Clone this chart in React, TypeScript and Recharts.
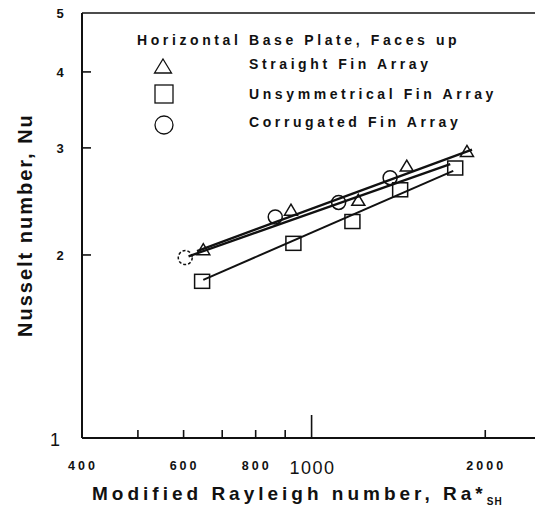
import React from "react";
import {
  ReferenceLine,
  Scatter,
  ScatterChart,
  XAxis,
  YAxis,
} from "recharts";

// Values.
const straightRa = [649, 921, 1205, 1462, 1859];
const straightNu = [2.04, 2.37, 2.46, 2.8, 2.96];

const unsymRa = [646, 930, 1177, 1424, 1774];
const unsymNu = [1.81, 2.09, 2.27, 2.56, 2.78];

const corrRa = [604, 865, 1114, 1368];
const corrNu = [1.98, 2.31, 2.44, 2.68];

// End points of the fitted power-law lines.
const straightFitRa = [633, 1897];
const straightFitNu = [2.03, 2.98];
const corrFitRa = [612, 1739];
const corrFitNu = [1.99, 2.82];
const unsymFitRa = [649, 1760];
const unsymFitNu = [1.82, 2.75];

const X_TICKS = [400, 500, 600, 700, 800, 900, 1000, 2000];
const X_LABELS: Record<number, string> = {
  400: "400",
  600: "600",
  800: "800",
  1000: "1000",
  2000: "2000",
};
const Y_TICKS = [1, 2, 3, 4, 5];

const INK = "#111";
const FONT = "Arial, 'Liberation Sans', sans-serif";

const toPoints = (xs: number[], ys: number[]) =>
  xs.map((x, i) => ({ x, y: ys[i] }));

function XTick({ x, y, payload }: any) {
  const v = payload.value as number;
  const big = v === 1000;
  const len = big ? 23 : 8;
  const label = X_LABELS[v];
  return (
    <g>
      {v !== 400 && (
        <line x1={x} x2={x} y1={y} y2={y - len} stroke={INK} strokeWidth={1.6} />
      )}
      {label && (
        <text
          x={x + 1}
          y={big ? y + 36 : y + 32}
          textAnchor="middle"
          fontFamily={FONT}
          fontSize={big ? 18 : 12.5}
          fontWeight={big ? 400 : 700}
          letterSpacing={big ? 1.5 : 3}
          fill={INK}
        >
          {label}
        </text>
      )}
    </g>
  );
}

function YTick({ x, y, payload }: any) {
  const v = payload.value as number;
  const big = v === 1;
  return (
    <g>
      {v > 1 && v < 5 && (
        <line x1={x} x2={x + 9} y1={y} y2={y} stroke={INK} strokeWidth={1.6} />
      )}
      <text
        x={big ? x - 27 : x - 22}
        y={big ? y + 8 : y + 5}
        textAnchor="middle"
        fontFamily={FONT}
        fontSize={big ? 18 : 13}
        fontWeight={big ? 400 : 700}
        fill={INK}
      >
        {v}
      </text>
    </g>
  );
}

const Triangle = ({ cx, cy }: any) => (
  <path
    d={`M${cx},${cy - 6} L${cx + 6.5},${cy + 5} L${cx - 6.5},${cy + 5} Z`}
    fill="none"
    stroke={INK}
    strokeWidth={1.5}
  />
);

const Square = ({ cx, cy }: any) => (
  <rect x={cx - 7.5} y={cy - 7} width={15} height={14} fill="none" stroke={INK} strokeWidth={1.5} />
);

const Circle = ({ cx, cy, index }: any) => (
  <circle
    cx={cx}
    cy={cy}
    r={7}
    fill="none"
    stroke={INK}
    strokeWidth={1.5}
    strokeDasharray={index === 0 ? "3 2" : undefined}
  />
);

const NoDot = () => <g />;

function LegendOverlay() {
  const text = {
    fontFamily: FONT,
    fontSize: 14,
    fontWeight: 700,
    letterSpacing: 3.6,
    fill: INK,
  } as const;
  return (
    <svg
      width={535}
      height={512}
      style={{ position: "absolute", left: 0, top: 0, pointerEvents: "none" }}
    >
      <text x={137} y={45} {...text} letterSpacing={3.6}>
        Horizontal Base Plate, Faces up
      </text>
      <path d="M163,59 L171.5,73 L154.5,73 Z" fill="none" stroke={INK} strokeWidth={1.3} />
      <text x={249} y={69} {...text}>
        Straight Fin Array
      </text>
      <rect x={155} y={85} width={18} height={18} fill="none" stroke={INK} strokeWidth={1.3} />
      <text x={249} y={99} {...text}>
        Unsymmetrical Fin Array
      </text>
      <circle cx={164} cy={125} r={9} fill="none" stroke={INK} strokeWidth={1.3} />
      <text x={249} y={127} {...text}>
        Corrugated Fin Array
      </text>
    </svg>
  );
}

export default function App() {
  return (
    <div
      style={{
        position: "absolute",
        left: 0,
        top: 0,
        width: 535,
        height: 512,
        overflow: "hidden",
        background: "#fff",
      }}
    >
      <ScatterChart width={551} height={512} margin={{ top: 13, right: 0, bottom: 0, left: 0 }}>
        <XAxis
          type="number"
          dataKey="x"
          scale="log"
          domain={[400, 2600]}
          allowDataOverflow
          ticks={X_TICKS}
          interval={0}
          tick={<XTick />}
          tickSize={0}
          tickMargin={0}
          tickLine={false}
          axisLine={{ stroke: INK, strokeWidth: 2 }}
          height={74}
          label={{
            content: () => (
              <text
                x={92}
                y={500}
                textAnchor="start"
                fontFamily={FONT}
                fontSize={19}
                fontWeight={700}
                letterSpacing={4}
                fill={INK}
              >
                Modified Rayleigh number, Ra*
                <tspan fontSize={10} dy={5} letterSpacing={1}>
                  SH
                </tspan>
              </text>
            ),
          }}
        />
        <YAxis
          type="number"
          dataKey="y"
          scale="log"
          domain={[1, 5]}
          allowDataOverflow
          ticks={Y_TICKS}
          interval={0}
          tick={<YTick />}
          tickSize={0}
          tickMargin={0}
          tickLine={false}
          axisLine={{ stroke: INK, strokeWidth: 2 }}
          width={82}
          label={{
            content: () => (
              <text
                transform="translate(32,337) rotate(-90)"
                textAnchor="start"
                fontFamily={FONT}
                fontSize={20}
                fontWeight={700}
                letterSpacing={2}
                fill={INK}
              >
                Nusselt number, Nu
              </text>
            ),
          }}
        />
        <ReferenceLine y={5} stroke={INK} strokeWidth={1.5} />

        <Scatter
          data={toPoints(straightFitRa, straightFitNu)}
          line={{ stroke: INK, strokeWidth: 2.4 }}
          shape={NoDot}
          isAnimationActive={false}
        />
        <Scatter
          data={toPoints(corrFitRa, corrFitNu)}
          line={{ stroke: INK, strokeWidth: 2.4 }}
          shape={NoDot}
          isAnimationActive={false}
        />
        <Scatter
          data={toPoints(unsymFitRa, unsymFitNu)}
          line={{ stroke: INK, strokeWidth: 2 }}
          shape={NoDot}
          isAnimationActive={false}
        />

        <Scatter data={toPoints(straightRa, straightNu)} shape={Triangle} isAnimationActive={false} />
        <Scatter data={toPoints(unsymRa, unsymNu)} shape={Square} isAnimationActive={false} />
        <Scatter data={toPoints(corrRa, corrNu)} shape={Circle} isAnimationActive={false} />
      </ScatterChart>
      <LegendOverlay />
    </div>
  );
}
